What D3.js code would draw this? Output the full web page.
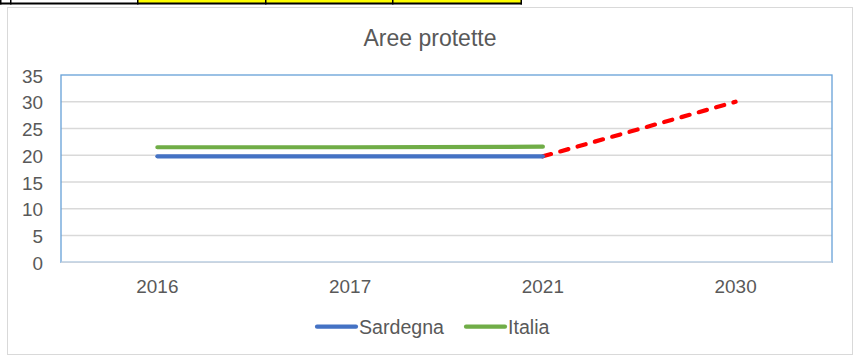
<!DOCTYPE html>
<html>
<head>
<meta charset="utf-8">
<script src="https://cdn.jsdelivr.net/npm/d3@7/dist/d3.min.js"></script>
<style>
  html, body { margin: 0; padding: 0; background: #fff; }
  svg { display: block; }
  text { font-family: "Liberation Sans", Arial, sans-serif; fill: #595959; }
</style>
</head>
<body>
<svg id="chart" width="854" height="356"></svg>
<script>
// Chart data
const categories = ["2016", "2017", "2021", "2030"];
const sardegna = [19.8, 19.8, 19.8, null];
const italia = [21.5, 21.5, 21.6, null];
const obiettivo = [null, null, 19.8, 30];
const yTicks = [0, 5, 10, 15, 20, 25, 30, 35];
const titleText = "Aree protette";
const seriesNames = ["Sardegna", "Italia"];

const svg = d3.select("#chart");

// Strip of spreadsheet cells above the chart
const strip = svg.append("g");
strip.append("rect").attr("x", 137).attr("y", 0).attr("width", 384).attr("height", 3).attr("fill", "#ffff00");
strip.append("rect").attr("x", 0).attr("y", 2.5).attr("width", 522).attr("height", 2).attr("fill", "#000");
[0, 10, 137, 265, 392, 520.5].forEach(x => {
  strip.append("rect").attr("x", x).attr("y", 0).attr("width", 1.5).attr("height", 4.5).attr("fill", "#000");
});

// Chart frame
svg.append("rect")
  .attr("x", 7.5).attr("y", 7.5).attr("width", 845).attr("height", 347)
  .attr("fill", "#fff").attr("stroke", "#d9d9d9").attr("stroke-width", 1);

const plot = { left: 61, right: 832, top: 75, bottom: 262.3 };

const x = d3.scaleBand().domain(categories).range([plot.left, plot.right]);
const y = d3.scaleLinear().domain([0, 35]).range([plot.bottom, plot.top]);
const cx = c => x(c) + x.bandwidth() / 2;

// Title
svg.append("text")
  .attr("x", 430).attr("y", 45.5)
  .attr("text-anchor", "middle")
  .style("font-size", "23px")
  .text(titleText);

// Gridlines
svg.append("g")
  .selectAll("line")
  .data(yTicks.filter(t => t > 0 && t < 35))
  .join("line")
  .attr("x1", plot.left).attr("x2", plot.right)
  .attr("y1", d => y(d)).attr("y2", d => y(d))
  .attr("stroke", "#d9d9d9").attr("stroke-width", 1.5);

// Plot area border
svg.append("rect")
  .attr("x", plot.left).attr("y", plot.top)
  .attr("width", plot.right - plot.left).attr("height", plot.bottom - plot.top)
  .attr("fill", "none").attr("stroke", "#66a0d8").attr("stroke-width", 1.3);

// Category axis line
svg.append("line")
  .attr("x1", plot.left).attr("x2", plot.right)
  .attr("y1", plot.bottom).attr("y2", plot.bottom)
  .attr("stroke", "#c9d3df").attr("stroke-width", 1.5);

// Y axis labels
const yAxis = d3.axisLeft(y).tickValues(yTicks).tickSize(0).tickPadding(18);
const gy = svg.append("g").attr("transform", `translate(${plot.left},0)`).call(yAxis);
gy.select(".domain").remove();
gy.selectAll("text")
  .style("font-size", "18.9px")
  .attr("fill", "#595959")
  .attr("dy", "0.38em")
  .style("font-family", "'Liberation Sans', Arial, sans-serif");

// X axis labels
const xAxis = d3.axisBottom(x).tickSize(0).tickPadding(17);
const gx = svg.append("g").attr("transform", `translate(0,${plot.bottom})`).call(xAxis);
gx.select(".domain").remove();
gx.selectAll("text")
  .style("font-size", "18.9px")
  .attr("fill", "#595959")
  .style("font-family", "'Liberation Sans', Arial, sans-serif");

// Lines
const line = d3.line()
  .defined(d => d.v !== null)
  .x(d => cx(d.c))
  .y(d => y(d.v));
const pts = arr => categories.map((c, i) => ({ c, v: arr[i] }));

svg.append("path")
  .datum(pts(obiettivo))
  .attr("d", line)
  .attr("fill", "none")
  .attr("stroke", "#ff0000")
  .attr("stroke-width", 4.2)
  .attr("stroke-linecap", "round")
  .attr("stroke-dasharray", "8.5,9.5");

svg.append("path")
  .datum(pts(italia))
  .attr("d", line)
  .attr("fill", "none")
  .attr("stroke", "#70ad47")
  .attr("stroke-width", 4.2)
  .attr("stroke-linecap", "round");

svg.append("path")
  .datum(pts(sardegna))
  .attr("d", line)
  .attr("fill", "none")
  .attr("stroke", "#4472c4")
  .attr("stroke-width", 4.2)
  .attr("stroke-linecap", "round");

// Legend
const legendItems = [
  { name: seriesNames[0], color: "#4472c4", x: 317 },
  { name: seriesNames[1], color: "#70ad47", x: 466 }
];
const lg = svg.append("g");
legendItems.forEach(item => {
  lg.append("line")
    .attr("x1", item.x).attr("x2", item.x + 39)
    .attr("y1", 326.7).attr("y2", 326.7)
    .attr("stroke", item.color).attr("stroke-width", 4.2)
    .attr("stroke-linecap", "round");
  lg.append("text")
    .attr("x", item.x + 42).attr("y", 333.5)
    .style("font-size", "19.6px")
    .text(item.name);
});
</script>
</body>
</html>
